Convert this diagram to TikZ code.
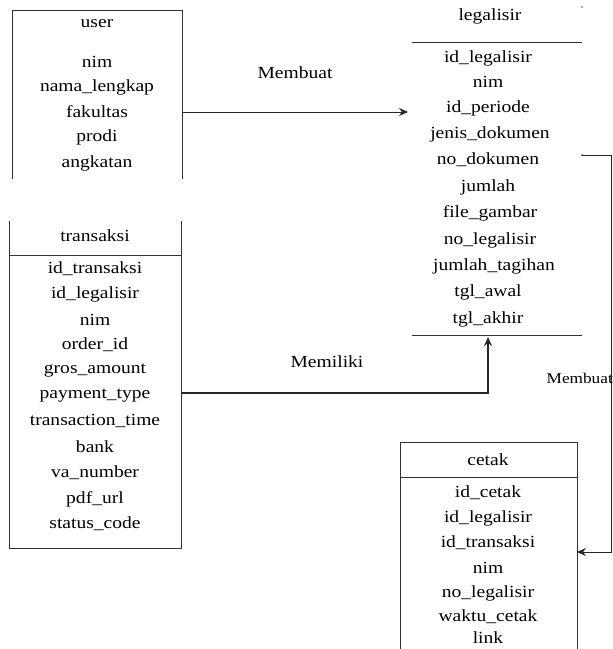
\documentclass[tikz,border=0pt]{standalone}
\usepackage{fontspec}
\setmainfont{Liberation Serif}[FakeStretch=1.15]
\usetikzlibrary{arrows.meta}
\begin{document}
\begin{tikzpicture}[x=1pt,y=-1pt,
  attr/.style={inner sep=0pt,anchor=center,font=\fontsize{17}{20}\selectfont},
  rel/.style={inner sep=0pt,anchor=center,font=\fontsize{17}{20}\selectfont},
  boxline/.style={draw=black!80,line width=1pt},
  conn/.style={draw=black!85,line width=1pt},
  thickconn/.style={draw=black!85,line width=2pt},
  tip/.style={-{Stealth[length=9pt,width=8pt]}}]
\useasboundingbox (0,0) rectangle (613,649);

% ---------- user ----------
\draw[boxline] (12,179) -- (12,10) -- (182,10) -- (182,179);
\node[attr] (uh) at (97,24) {user};
\node[attr] (u1) at (97,62) {nim};
\node[attr] (u2) at (97,87) {nama\_lengkap};
\node[attr] (u3) at (97,112) {fakultas};
\node[attr] (u4) at (97,137) {prodi};
\node[attr] (u5) at (97,163) {angkatan};

% ---------- legalisir ----------
\node[attr] (lh) at (490,16) {legalisir};
\draw[boxline] (412,42) -- (582,42);
\node[attr] (l1) at (488,58) {id\_legalisir};
\node[attr] (l2) at (488,82) {nim};
\node[attr] (l3) at (488,108) {id\_periode};
\node[attr] (l4) at (490,134) {jenis\_dokumen};
\node[attr] (l5) at (488,160) {no\_dokumen};
\node[attr] (l6) at (488,187) {jumlah};
\node[attr] (l7) at (490,213) {file\_gambar};
\node[attr] (l8) at (490,240) {no\_legalisir};
\node[attr] (l9) at (494,266) {jumlah\_tagihan};
\node[attr] (l10) at (488,292) {tgl\_awal};
\node[attr] (l11) at (488,319) {tgl\_akhir};
\draw[boxline] (412,335) -- (582,335);
\fill[black!70] (582,7) circle (0.8);

% ---------- transaksi ----------
\draw[boxline] (9,221) -- (9,548) -- (181,548) -- (181,221);
\draw[boxline] (9,255) -- (181,255);
\node[attr] (th) at (95,236) {transaksi};
\node[attr] (t1) at (95,269) {id\_transaksi};
\node[attr] (t2) at (95,294) {id\_legalisir};
\node[attr] (t3) at (95,320) {nim};
\node[attr] (t4) at (95,345) {order\_id};
\node[attr] (t5) at (95,371) {gros\_amount};
\node[attr] (t6) at (95,396) {payment\_type};
\node[attr] (t7) at (95,421) {transaction\_time};
\node[attr] (t8) at (95,447) {bank};
\node[attr] (t9) at (95,473) {va\_number};
\node[attr] (t10) at (95,499) {pdf\_url};
\node[attr] (t11) at (95,524) {status\_code};

% ---------- cetak ----------
\draw[boxline] (400,649) -- (400,442) -- (577,442) -- (577,649);
\draw[boxline] (400,477) -- (577,477);
\node[attr] (ch) at (488,460) {cetak};
\node[attr] (c1) at (488,493) {id\_cetak};
\node[attr] (c2) at (488,518) {id\_legalisir};
\node[attr] (c3) at (488,543) {id\_transaksi};
\node[attr] (c4) at (488,568) {nim};
\node[attr] (c5) at (488,593) {no\_legalisir};
\node[attr] (c6) at (488,617) {waktu\_cetak};
\node[attr] (c7) at (488,638) {link};

% ---------- connectors ----------
\coordinate (userR) at (182,112);
\coordinate (legIn) at (408,112);
\draw[conn,tip] (userR) -- (legIn);
\node[rel] (r1) at (295,73) {Membuat};

\coordinate (transR) at (181,393);
\coordinate (legBot) at (488,337);
\draw[thickconn,tip] (transR) -| (legBot);
\node[rel] (r2) at (327,362) {Memiliki};

\coordinate (legR) at (582,155);
\coordinate (turn) at (611,552);
\coordinate (cetIn) at (577,552);
\fill[black!70] (legR) circle (1);
\draw[conn,tip] (legR) -- (611,155) -- (turn) -- (cetIn);
\node[rel,anchor=east,font=\fontsize{15}{18}\selectfont] (r3) at (613,378) {Membuat};
\end{tikzpicture}
\end{document}
